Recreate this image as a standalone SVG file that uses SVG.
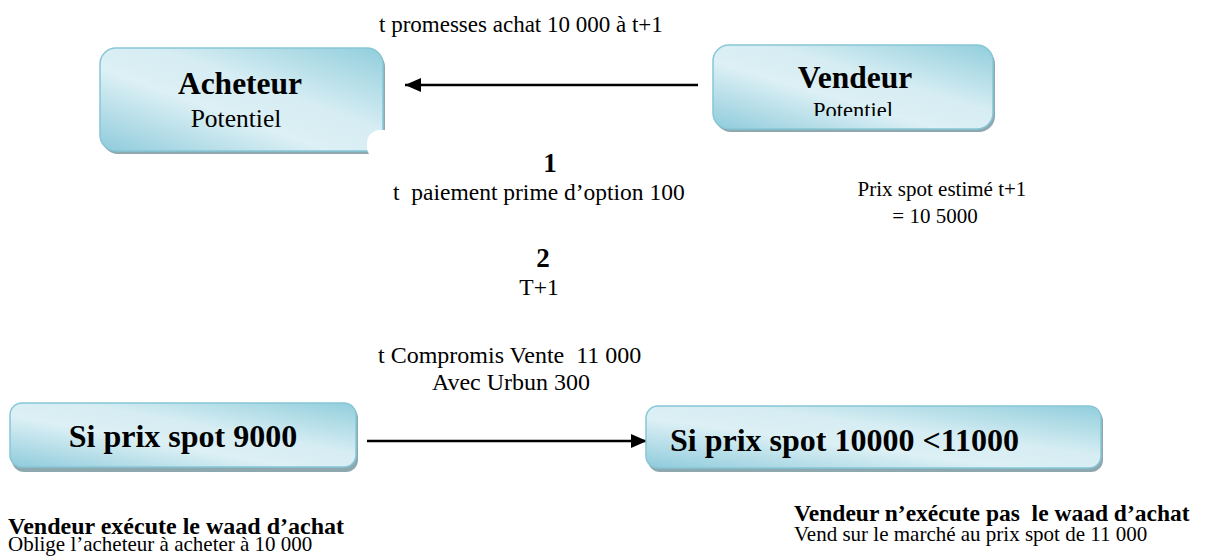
<svg xmlns="http://www.w3.org/2000/svg" width="1205" height="560" viewBox="0 0 1205 560" font-family="'Liberation Serif', 'DejaVu Serif', serif">
  <style>
    text { font-family: "Liberation Serif", "DejaVu Serif", serif; fill: #000; }
    .title { font-weight: bold; font-size: 31.5px; }
    .big { font-weight: bold; font-size: 32px; }
    .sub { font-size: 25.5px; }
    .lbl { font-size: 23.5px; }
    .num { font-weight: bold; font-size: 27px; }
    .note { font-size: 21px; }
    .noteb { font-weight: bold; font-size: 23.5px; }
    .box { fill: url(#boxFill); stroke: #86c6d6; stroke-width: 1.5; }
    .shadow { fill: #8ea8b0; }
    .link { stroke: #000; stroke-width: 2.5; fill: none; marker-end: url(#arrow); }
  </style>
  <defs>
    <linearGradient id="boxFill" x1="0" y1="1" x2="1" y2="0">
      <stop offset="0" stop-color="#8fcbdb"/>
      <stop offset="0.4" stop-color="#dcf0f5"/>
      <stop offset="0.6" stop-color="#d6edf3"/>
      <stop offset="1" stop-color="#91cedc"/>
    </linearGradient>
    <marker id="arrow" markerUnits="userSpaceOnUse" markerWidth="18" markerHeight="16" refX="16" refY="7" orient="auto">
      <path d="M0,0 L16,7 L0,14 Z" fill="#000"/>
    </marker>
    <clipPath id="vendClip">
      <rect x="713" y="45" width="282" height="71"/>
    </clipPath>
  </defs>

  <rect width="1205" height="560" fill="#fff"/>

  <!-- connectors -->
  <g id="connectors">
    <line class="link" x1="698" y1="85" x2="405" y2="85"/>
    <line class="link" x1="367" y1="441" x2="647" y2="441"/>
  </g>

  <!-- buyer -->
  <g id="acheteur">
    <rect class="shadow" x="102" y="51" width="283" height="103" rx="16"/>
    <rect class="box" x="100" y="48" width="283" height="103" rx="16"/>
    <rect x="367" y="130" width="30" height="30" rx="13" fill="#fff"/>
    <text class="title" x="240" y="94" text-anchor="middle">Acheteur</text>
    <text class="sub" x="236" y="127" text-anchor="middle">Potentiel</text>
  </g>

  <!-- seller -->
  <g id="vendeur">
    <rect class="shadow" x="715" y="48" width="280" height="84" rx="16"/>
    <rect class="box" x="713" y="45" width="280" height="84" rx="16"/>
    <text class="title" x="855" y="88" text-anchor="middle">Vendeur</text>
    <text x="853" y="118" text-anchor="middle" font-size="22.5" clip-path="url(#vendClip)">Potentiel</text>
  </g>

  <!-- labels between the parties -->
  <g id="labels">
    <text x="379" y="32" font-size="23">t promesses achat 10 000 à t+1</text>
    <text class="num" x="550" y="172" text-anchor="middle">1</text>
    <text class="lbl" x="393" y="200" xml:space="preserve">t  paiement prime d’option 100</text>
    <text class="num" x="543" y="267" text-anchor="middle">2</text>
    <text class="lbl" x="539" y="295" text-anchor="middle">T+1</text>
    <text class="note" x="942" y="196" text-anchor="middle">Prix spot estimé t+1</text>
    <text class="note" x="935" y="223" text-anchor="middle">= 10 5000</text>
    <text x="378" y="363" font-size="24" xml:space="preserve">t Compromis Vente  11 000</text>
    <text x="511" y="390" font-size="24" text-anchor="middle">Avec Urbun 300</text>
  </g>

  <!-- scenario: low spot price -->
  <g id="spot9000">
    <rect class="shadow" x="12" y="406" width="346" height="66" rx="12"/>
    <rect class="box" x="10" y="403" width="346" height="64" rx="12"/>
    <text class="big" x="183" y="447" text-anchor="middle">Si prix spot 9000</text>
  </g>

  <!-- scenario: spot price between -->
  <g id="spot10000">
    <rect class="shadow" x="648" y="409" width="455" height="63" rx="12"/>
    <rect class="box" x="646" y="406" width="455" height="62" rx="12"/>
    <text class="big" x="670" y="451">Si prix spot 10000 &lt;11000</text>
  </g>

  <!-- outcomes -->
  <g id="outcome-left">
    <text x="8" y="534" font-weight="bold" font-size="24">Vendeur exécute le waad d’achat</text>
    <text class="note" x="8" y="551">Oblige l’acheteur à acheter à 10 000</text>
  </g>
  <g id="outcome-right">
    <text class="noteb" x="794" y="521" xml:space="preserve">Vendeur n’exécute pas  le waad d’achat</text>
    <text class="note" x="794" y="541" font-size="20.5">Vend sur le marché au prix spot de 11 000</text>
  </g>
</svg>
